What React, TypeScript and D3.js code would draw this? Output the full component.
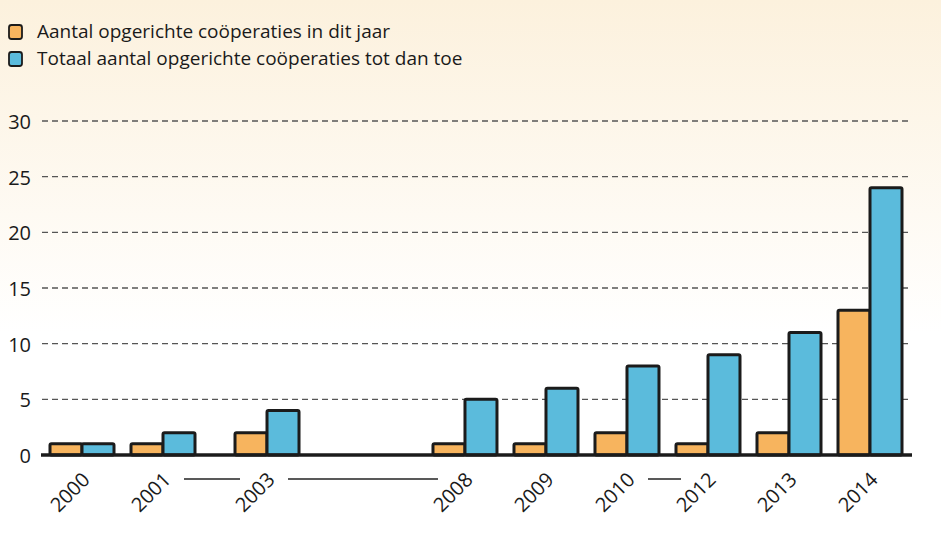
import React from "react";
import * as d3 from "d3";

const years = ["2000", "2001", "2003", "2008", "2009", "2010", "2012", "2013", "2014"];
const newPerYear = [1, 1, 2, 1, 1, 2, 1, 2, 13];
const totalSoFar = [1, 2, 4, 5, 6, 8, 9, 11, 24];
const yTicks = [0, 5, 10, 15, 20, 25, 30];
const seriesNames = [
  "Aantal opgerichte coöperaties in dit jaar",
  "Totaal aantal opgerichte coöperaties tot dan toe",
];
// years after which the axis is broken (a connector line is drawn between labels)
const breaksAfter = ["2001", "2003", "2010"];

const W = 941;
const H = 537;
const COLORS = ["#F7B45E", "#5BBBDC"];
const STROKE = "#1b1b1b";
const FONT = "'Open Sans', 'DejaVu Sans', sans-serif";

export default function App() {
  // extra spacing (in slot units) added before some years, to reflect the axis breaks
  const extraGap: Record<string, number> = { "2003": 0.284, "2008": 1.444 };
  const slots: number[] = [];
  let acc = 0;
  years.forEach((yr, i) => {
    acc += extraGap[yr] || 0;
    slots.push(i + acc);
  });

  const x = d3.scaleLinear().domain([0, slots[slots.length - 1]]).range([82, 870]);
  const xi = d3.scaleBand().domain(["new", "total"]).range([-32, 32]).padding(0);
  const y = d3.scaleLinear().domain([0, 30]).range([455, 121]);

  const gridX0 = 42;
  const gridX1 = 912;

  return (
    <svg
      width={W}
      height={H}
      viewBox={`0 0 ${W} ${H}`}
      style={{ position: "absolute", left: 0, top: 0, display: "block" }}
      fontFamily={FONT}
    >
      <defs>
        <linearGradient id="bg" x1="0" y1="0" x2="0" y2="1">
          <stop offset="0" stopColor="#FCF1DD" />
          <stop offset="0.62" stopColor="#FFFFFF" />
          <stop offset="1" stopColor="#FFFFFF" />
        </linearGradient>
      </defs>
      <rect x={0} y={0} width={W} height={H} fill="url(#bg)" />

      {/* legend */}
      {seriesNames.map((name, i) => (
        <g key={name} transform={`translate(0, ${i * 27})`}>
          <rect x={9} y={25} width={13} height={14} rx={2.5} fill={COLORS[i]} stroke={STROKE} strokeWidth={1.8} />
          <text x={37} y={38} fontSize={19} fill="#1a1a1a">
            {name}
          </text>
        </g>
      ))}

      {/* grid */}
      {yTicks.filter((t) => t > 0).map((t) => (
        <line
          key={t}
          x1={gridX0}
          x2={gridX1}
          y1={y(t)}
          y2={y(t)}
          stroke="#555"
          strokeWidth={1.3}
          strokeDasharray="6 4"
        />
      ))}
      {yTicks.map((t) => (
        <text key={t} x={31} y={y(t) + 8} textAnchor="end" fontSize={20} fill="#1a1a1a">
          {t}
        </text>
      ))}

      {/* bars */}
      {years.map((yr, i) => {
        const cx = x(slots[i]);
        const vals: [string, number][] = [
          ["new", newPerYear[i]],
          ["total", totalSoFar[i]],
        ];
        return (
          <g key={yr}>
            {vals.map(([k, v], j) => (
              <rect
                key={k}
                x={cx + (xi(k) as number)}
                y={y(v)}
                width={xi.bandwidth()}
                height={y(0) - y(v)}
                rx={1.5}
                fill={COLORS[j]}
                stroke={STROKE}
                strokeWidth={3}
              />
            ))}
          </g>
        );
      })}

      {/* zero axis */}
      <line x1={gridX0 - 1} x2={gridX1} y1={y(0)} y2={y(0)} stroke={STROKE} strokeWidth={3.5} />

      {/* x labels */}
      {years.map((yr, i) => {
        const px = x(slots[i]) + 9;
        const py = 481;
        return (
          <text
            key={yr}
            transform={`translate(${px}, ${py}) rotate(-45)`}
            textAnchor="end"
            fontSize={20}
            fill="#1a1a1a"
          >
            {yr}
          </text>
        );
      })}

      {/* axis break connectors */}
      {breaksAfter.map((yr) => {
        const i = years.indexOf(yr);
        const a = x(slots[i]) + 21;
        const b = x(slots[i + 1]) - 27;
        return <line key={yr} x1={a} x2={b} y1={479} y2={479} stroke="#222" strokeWidth={1.4} />;
      })}
    </svg>
  );
}
